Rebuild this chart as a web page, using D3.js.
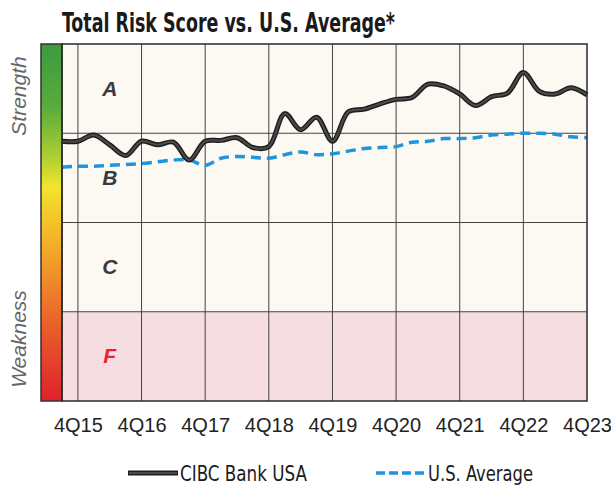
<!DOCTYPE html>
<html>
<head>
<meta charset="utf-8">
<script src="https://cdn.jsdelivr.net/npm/d3@7"></script>
<style>
  body { margin: 0; background: #fff; }
  svg text { font-family: "Liberation Sans", Arial, sans-serif; }
</style>
</head>
<body>
<div id="chart"></div>
<script>
var width = 611;
var height = 487;

// quarters from 3Q15 to 4Q23
var quarters = ["3Q15","4Q15","1Q16","2Q16","3Q16","4Q16","1Q17","2Q17","3Q17","4Q17",
  "1Q18","2Q18","3Q18","4Q18","1Q19","2Q19","3Q19","4Q19","1Q20","2Q20","3Q20","4Q20",
  "1Q21","2Q21","3Q21","4Q21","1Q22","2Q22","3Q22","4Q22","1Q23","2Q23","3Q23","4Q23"];

// score: F 0-1, C 1-2, B 2-3, A 3-4
var cibc = [2.91, 2.91, 2.98, 2.87, 2.75, 2.91, 2.87, 2.90, 2.70, 2.91, 2.92, 2.95, 2.84, 2.85,
  3.22, 3.04, 3.18, 2.91, 3.24, 3.27, 3.33, 3.38, 3.40, 3.55, 3.53, 3.44, 3.31, 3.41, 3.45,
  3.68, 3.47, 3.44, 3.51, 3.43];
var usAvg = [2.62, 2.63, 2.63, 2.64, 2.65, 2.66, 2.68, 2.70, 2.70, 2.64, 2.72, 2.74, 2.73, 2.72,
  2.76, 2.79, 2.76, 2.77, 2.80, 2.83, 2.84, 2.85, 2.90, 2.91, 2.94, 2.94, 2.95, 2.98, 2.99,
  3.00, 3.00, 2.99, 2.96, 2.95];

var tickLabels = ["4Q15","4Q16","4Q17","4Q18","4Q19","4Q20","4Q21","4Q22","4Q23"];
var grades = ["F","C","B","A"];

var plotL = 62, plotR = 587, plotT = 44, plotB = 401;

var xscale = d3.scalePoint().domain(quarters).range([plotL, plotR]);
var yscale = d3.scaleLinear().domain([0, 4]).range([plotB, plotT]);

var svg = d3.select("#chart").append("svg")
  .attr("width", width)
  .attr("height", height);

// title
svg.append("text")
  .attr("x", 62)
  .attr("y", 32)
  .attr("textLength", 333)
  .attr("lengthAdjust", "spacingAndGlyphs")
  .style("font-family", "'Liberation Sans Narrow', 'DejaVu Sans Condensed', sans-serif")
  .style("font-weight", "bold")
  .style("font-size", "26px")
  .attr("fill", "#1a1a1a")
  .text("Total Risk Score vs. U.S. Average*");

// bands
svg.selectAll(".band")
  .data(grades)
  .enter()
  .append("rect")
  .attr("x", plotL)
  .attr("width", plotR - plotL)
  .attr("y", function (d, i) { return yscale(i + 1); })
  .attr("height", function (d, i) { return yscale(i) - yscale(i + 1); })
  .attr("fill", function (d) { return d === "F" ? "#f6dde2" : "#fcf8f2"; });

// color bar
var grad = svg.append("defs").append("linearGradient")
  .attr("id", "bar-grad")
  .attr("x1", 0).attr("y1", 0).attr("x2", 0).attr("y2", 1);
grad.append("stop").attr("offset", "0%").attr("stop-color", "#3c9a40");
grad.append("stop").attr("offset", "18%").attr("stop-color", "#5aad3c");
grad.append("stop").attr("offset", "33%").attr("stop-color", "#b8d232");
grad.append("stop").attr("offset", "40%").attr("stop-color", "#f2e52a");
grad.append("stop").attr("offset", "55%").attr("stop-color", "#f4b228");
grad.append("stop").attr("offset", "75%").attr("stop-color", "#ec6b2a");
grad.append("stop").attr("offset", "100%").attr("stop-color", "#e0202c");

svg.append("rect")
  .attr("x", 41)
  .attr("y", plotT)
  .attr("width", plotL - 41)
  .attr("height", plotB - plotT)
  .attr("fill", "url(#bar-grad)")
  .attr("stroke", "#333")
  .attr("stroke-width", 1.5);

// vertical grid lines at 4Q
svg.selectAll(".vgrid")
  .data(tickLabels.slice(0, -1))
  .enter()
  .append("line")
  .attr("x1", function (d) { return xscale(d); })
  .attr("x2", function (d) { return xscale(d); })
  .attr("y1", plotT)
  .attr("y2", plotB)
  .attr("stroke", "#444")
  .attr("stroke-width", 1);

// horizontal grade lines
svg.selectAll(".hgrid")
  .data([1, 2, 3])
  .enter()
  .append("line")
  .attr("x1", plotL)
  .attr("x2", plotR)
  .attr("y1", function (d) { return yscale(d); })
  .attr("y2", function (d) { return yscale(d); })
  .attr("stroke", "#444")
  .attr("stroke-width", 1);

// grade letters
svg.selectAll(".grade")
  .data(grades)
  .enter()
  .append("text")
  .attr("x", (xscale("4Q15") + xscale("4Q16")) / 2)
  .attr("y", function (d, i) { return yscale(i + 0.5) + 7; })
  .attr("text-anchor", "middle")
  .style("font-size", "21px")
  .style("font-weight", "bold")
  .style("font-style", "italic")
  .attr("fill", function (d) { return d === "F" ? "#e82430" : "#3a3a3a"; })
  .text(function (d) { return d; });

// lines
var line = d3.line()
  .x(function (d, i) { return xscale(quarters[i]); })
  .y(function (d) { return yscale(d); })
  .curve(d3.curveCatmullRom.alpha(0.5));

svg.append("path")
  .datum(usAvg)
  .attr("fill", "none")
  .attr("stroke", "#1e95dd")
  .attr("stroke-width", 3.5)
  .attr("stroke-dasharray", "10,6")
  .attr("d", line);

svg.append("path")
  .datum(cibc)
  .attr("fill", "none")
  .attr("stroke", "#1e1e1e")
  .attr("stroke-width", 5)
  .attr("d", line);
svg.append("path")
  .datum(cibc)
  .attr("fill", "none")
  .attr("stroke", "#4a4d4a")
  .attr("stroke-width", 2)
  .attr("d", line);

// plot border
svg.append("rect")
  .attr("x", plotL)
  .attr("y", plotT)
  .attr("width", plotR - plotL)
  .attr("height", plotB - plotT)
  .attr("fill", "none")
  .attr("stroke", "#2a2a2a")
  .attr("stroke-width", 1.5);

// x axis
var xaxis = d3.axisBottom()
  .scale(xscale)
  .tickValues(tickLabels)
  .tickSize(0)
  .tickPadding(16.5);

var gx = svg.append("g")
  .attr("transform", "translate(0," + plotB + ")")
  .call(xaxis);
gx.select(".domain").remove();
gx.selectAll("text")
  .style("font-family", "'Liberation Sans', Arial, sans-serif")
  .style("font-size", "20px")
  .attr("fill", "#222");

// side labels
svg.append("text")
  .attr("transform", "translate(26,96) rotate(-90)")
  .attr("text-anchor", "middle")
  .style("font-size", "21px")
  .style("font-style", "italic")
  .attr("fill", "#666")
  .text("Strength");

svg.append("text")
  .attr("transform", "translate(26,339) rotate(-90)")
  .attr("text-anchor", "middle")
  .style("font-size", "21px")
  .style("font-style", "italic")
  .attr("fill", "#666")
  .text("Weakness");

// legend
var legend = svg.append("g");
legend.append("line")
  .attr("x1", 128).attr("x2", 178)
  .attr("y1", 473).attr("y2", 473)
  .attr("stroke", "#1e1e1e")
  .attr("stroke-width", 5);
legend.append("line")
  .attr("x1", 129).attr("x2", 177)
  .attr("y1", 473).attr("y2", 473)
  .attr("stroke", "#4a4d4a")
  .attr("stroke-width", 2);
legend.append("text")
  .attr("x", 180)
  .attr("y", 481)
  .attr("textLength", 127)
  .attr("lengthAdjust", "spacingAndGlyphs")
  .style("font-family", "'Liberation Sans Narrow', 'DejaVu Sans Condensed', sans-serif")
  .style("font-size", "21px")
  .attr("fill", "#1a1a1a")
  .text("CIBC Bank USA");

legend.append("line")
  .attr("x1", 376).attr("x2", 426)
  .attr("y1", 473).attr("y2", 473)
  .attr("stroke", "#1e95dd")
  .attr("stroke-width", 3.5)
  .attr("stroke-dasharray", "9,4");
legend.append("text")
  .attr("x", 428)
  .attr("y", 481)
  .attr("textLength", 105)
  .attr("lengthAdjust", "spacingAndGlyphs")
  .style("font-family", "'Liberation Sans Narrow', 'DejaVu Sans Condensed', sans-serif")
  .style("font-size", "21px")
  .attr("fill", "#1a1a1a")
  .text("U.S. Average");
</script>
</body>
</html>
